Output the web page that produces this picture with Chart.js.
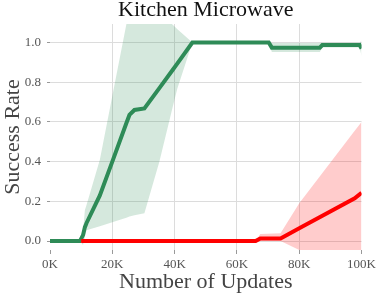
<!DOCTYPE html>
<html>
<head>
<meta charset="utf-8">
<script src="https://cdn.jsdelivr.net/npm/chart.js@4.4.0/dist/chart.umd.min.js"></script>
<style>
  html, body { margin: 0; padding: 0; background: #fff; }
  canvas { display: block; }
</style>
</head>
<body>
<canvas id="chart" width="379" height="296"></canvas>
<script>
const TITLE = 'Kitchen Microwave';
const X_TICKS = [0, 20000, 40000, 60000, 80000, 100000];
const Y_TICKS = [0, 0.2, 0.4, 0.6, 0.8, 1.0];

// green run (mean + band)
const greenSteps = [0, 9600, 10600, 11200, 11700, 16000, 20000, 24500, 25500, 27100, 30300, 35100, 39300, 40900, 45700, 70200, 71200, 86600, 87400, 99400, 100000];
const greenMean = [0, 0, 0.03, 0.07, 0.09, 0.23, 0.40, 0.593, 0.635, 0.66, 0.668, 0.77, 0.86, 0.895, 1.0, 1.0, 0.974, 0.974, 0.987, 0.987, 0.97];
const greenHigh = [0, 0, 0.05, 0.156, 0.18, 0.41, 0.73, 1.09, 1.17, 1.22, 1.22, 1.15, 1.09, 1.067, 1.0, 1.0, 0.997, 0.997, 0.998, 0.998, 1.01];
const greenLow = [0, 0, -0.02, 0.02, 0.055, 0.075, 0.095, 0.118, 0.124, 0.13, 0.14, 0.40, 0.67, 0.77, 1.0, 1.0, 0.952, 0.952, 0.975, 0.975, 0.93];

// red run (mean + band)
const redSteps = [10000, 66000, 67500, 74000, 80000, 97800, 100000];
const redMean = [0, 0, 0.013, 0.013, 0.064, 0.215, 0.243];
const redHigh = [0, 0, 0.035, 0.039, 0.19, 0.555, 0.6];
const redLow = [0, 0, 0.0, 0.0, -0.045, -0.12, -0.13];

const SERIF = '"Liberation Serif", "Times New Roman", serif';
const GREEN = '#2e8b57';
const RED = '#ff0000';
const GRID = '#dcdcdc';

const toPoints = (xs, ys) => xs.map((x, i) => ({ x, y: ys[i] }));

const band = (xs, ys, color, fill, order) => ({
  data: toPoints(xs, ys),
  borderColor: 'rgba(0,0,0,0)',
  borderWidth: 0,
  backgroundColor: color,
  pointRadius: 0,
  fill,
  order,
});

const line = (xs, ys, color, order) => ({
  data: toPoints(xs, ys),
  borderColor: color,
  borderWidth: 4,
  pointRadius: 0,
  fill: false,
  tension: 0,
  order,
});

const titlePlugin = {
  id: 'plotTitle',
  afterDraw(chart) {
    const { ctx, chartArea } = chart;
    ctx.save();
    ctx.font = `22px ${SERIF}`;
    ctx.fillStyle = '#111';
    ctx.textAlign = 'center';
    ctx.textBaseline = 'alphabetic';
    ctx.fillText(TITLE, (chartArea.left + chartArea.right) / 2, 16);
    ctx.restore();
  },
};

new Chart(document.getElementById('chart'), {
  type: 'line',
  data: {
    datasets: [
      band(greenSteps, greenHigh, 'rgba(46,139,87,0.2)', '+1', 4),
      band(greenSteps, greenLow, 'rgba(46,139,87,0.2)', false, 4),
      band(redSteps, redHigh, 'rgba(255,0,0,0.2)', '+1', 3),
      band(redSteps, redLow, 'rgba(255,0,0,0.2)', false, 3),
      line(greenSteps, greenMean, GREEN, 2),
      line(redSteps, redMean, RED, 1),
    ],
  },
  options: {
    responsive: false,
    animation: false,
    devicePixelRatio: 1,
    layout: { padding: { top: 24, right: 16, left: 0, bottom: 0 } },
    plugins: {
      legend: { display: false },
      tooltip: { enabled: false },
    },
    scales: {
      x: {
        type: 'linear',
        min: 0,
        max: 100000,
        afterBuildTicks: scale => { scale.ticks = X_TICKS.map(value => ({ value })); },
        afterFit: scale => { scale.height = 46; },
        border: { display: false },
        grid: {
          color: c => (c.tick && (c.tick.value === 0 || c.tick.value === 100000) ? 'rgba(0,0,0,0)' : GRID),
          tickColor: '#999',
          tickLength: 4,
        },
        ticks: {
          callback: v => v / 1000 + 'K',
          font: { family: SERIF, size: 13 },
          color: '#555',
          padding: 3,
          maxRotation: 0,
        },
        title: {
          display: true,
          text: 'Number of Updates',
          font: { family: SERIF, size: 22 },
          color: '#444',
          padding: { top: 0, bottom: 1 },
        },
      },
      y: {
        min: -0.045,
        max: 1.093,
        afterBuildTicks: scale => { scale.ticks = Y_TICKS.map(value => ({ value })); },
        afterFit: scale => { scale.width = 50; },
        border: { display: false },
        grid: {
          color: GRID,
          tickColor: '#999',
          tickLength: 3,
        },
        ticks: {
          callback: v => v.toFixed(1),
          font: { family: SERIF, size: 13 },
          color: '#555',
          padding: 6,
        },
        title: {
          display: true,
          text: 'Success Rate',
          font: { family: SERIF, size: 22 },
          color: '#444',
          padding: { top: 0, bottom: 0 },
        },
      },
    },
  },
  plugins: [titlePlugin],
});
</script>
</body>
</html>
